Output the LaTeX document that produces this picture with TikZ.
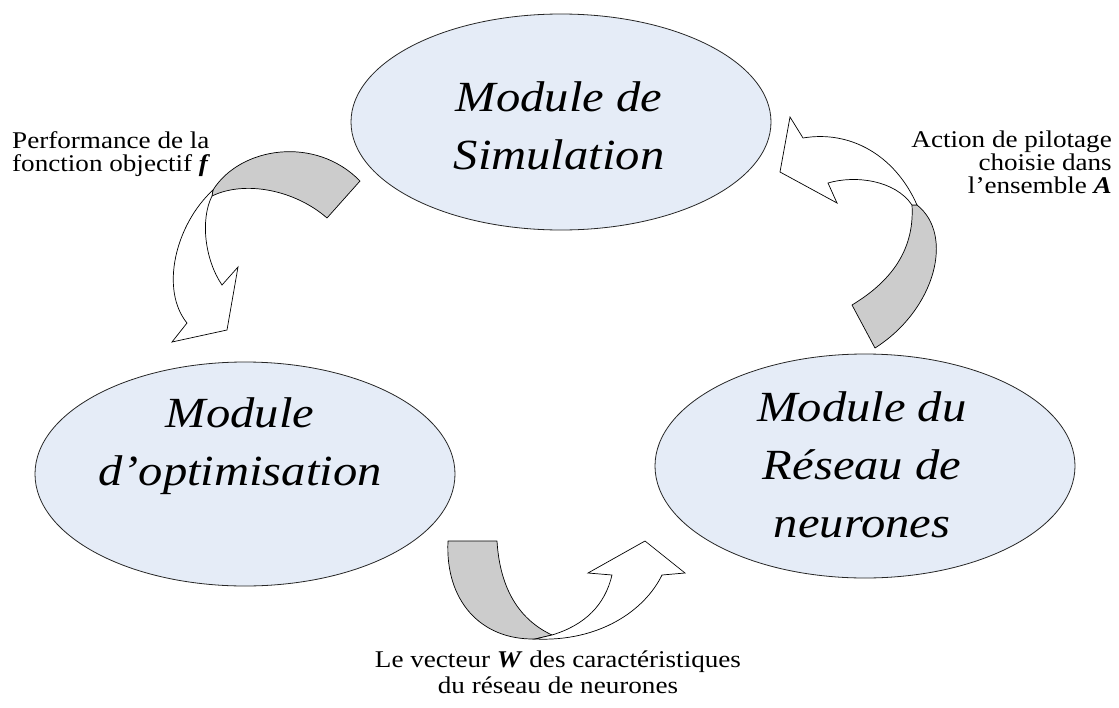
\documentclass[tikz,border=0pt]{standalone}
\usepackage{fontspec}
\setmainfont{Liberation Serif}[FakeStretch=1.13]
\usetikzlibrary{shapes.geometric}
\definecolor{modfill}{RGB}{229,236,247}
\definecolor{dosgris}{RGB}{204,204,204}

\begin{document}
\begin{tikzpicture}[x=1pt,y=-1pt,
    module/.style={ellipse,draw=black!85,line width=0.8pt,fill=modfill,
      minimum width=420pt,minimum height=224pt,inner sep=0pt},
    modtexte/.style={font=\fontsize{43}{58}\selectfont\itshape,align=center,inner sep=0pt},
    legende/.style={font=\fontsize{24}{23}\selectfont,inner sep=0pt},
    dos/.style={draw=black,line width=0.7pt,fill=dosgris,line join=round},
    face/.style={draw=black,line width=0.7pt,fill=white,line join=miter}]
  \useasboundingbox (0,0) rectangle (1119,707);

  % Les trois modules
  \node[module,minimum height=216pt] (S) at (561,122) {}; % simulation
  \node[module] (O) at (245,474) {};                      % optimisation
  \node[module] (R) at (865,466) {};                      % reseau de neurones
  \node[modtexte] (St) at (559,126) {Module de\\Simulation};
  \node[modtexte] (Ot) at (240,446) {Module\\d’optimisation};
  \node[modtexte] (Rt) at (862,465) {Module du\\Réseau de\\neurones};

  % Fleche courbe : simulation -> optimisation
  \draw[dos] (213,190) .. controls (240,147) and (315,135) .. (360,181)
    -- (327,218) .. controls (295,190) and (245,180) .. (212,196) -- cycle;
  \draw[face] (213,190) .. controls (175,225) and (160,290) .. (187,323)
    -- (172,342) -- (227,330) -- (238,267) -- (222,285)
    .. controls (205,260) and (200,220) .. (212,196) -- cycle;

  % Fleche courbe : reseau -> simulation
  \draw[dos] (852,305) -- (875,348) .. controls (935,310) and (955,235) .. (917,205)
    -- (912,205) .. controls (915,255) and (885,285) .. (852,305) -- cycle;
  \draw[face] (917,205) .. controls (895,155) and (850,130) .. (803,138)
    -- (790,117) -- (780,172) -- (837,203) -- (828,183)
    .. controls (855,175) and (895,180) .. (912,205) -- cycle;

  % Fleche courbe : optimisation -> reseau
  \draw[dos] (448,541) -- (497,541) .. controls (500,590) and (520,620) .. (552,635)
    -- (535,639) .. controls (480,640) and (445,600) .. (448,541) -- cycle;
  \draw[face] (535,639) .. controls (600,642) and (645,610) .. (662,575)
    -- (685,573) -- (645,541) -- (588,573) -- (612,575)
    .. controls (605,605) and (585,625) .. (552,635) -- cycle;

  % Legendes
  \node[legende,align=left,anchor=north west] (perf) at (12,131)
    {Performance de la\\fonction objectif \textbf{\textit{f}}};
  \node[legende,align=right,anchor=north east] (act) at (1112,131)
    {Action de pilotage\\choisie dans\\l’ensemble \textbf{\textit{A}}};
  \node[legende,align=center,anchor=north,font=\fontsize{24}{26}\selectfont] (vect) at (558,651)
    {Le vecteur \textbf{\textit{W}} des caractéristiques\\du réseau de neurones};
\end{tikzpicture}
\end{document}
